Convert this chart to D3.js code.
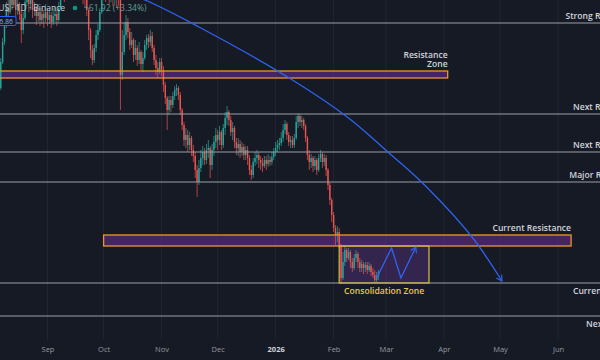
<!DOCTYPE html>
<html><head><meta charset="utf-8">
<script src="https://cdn.jsdelivr.net/npm/d3@7"></script>
<style>html,body{margin:0;padding:0;background:#161a25;overflow:hidden}svg{display:block}</style>
</head><body><svg id="c" width="600" height="360"></svg>
<script>
// ---------- DATA ----------
const firstDay = [2025, 7, 7]; // Aug 7 2025, daily candles
const firstOpen = 3750;
const closes = [4010,4210,4380,4550,4510,4650,4580,4630,4530,4590,4490,4330,4450,4610,4690,4590,4630,4530,4550,4470,4510,4430,4490,4450,4510,4430,4480,4410,4470,4490,4430,4550,4670,4750,4710,4770,4730,4790,4750,4810,4770,4830,4790,4750,4710,4650,4530,4330,4130,4030,4150,4280,4330,4510,4670,4770,4730,4790,4710,4750,4690,4730,4670,4650,3880,4110,4280,4410,4310,4180,4230,4080,4150,4030,4110,3990,4050,4180,4250,4210,4270,4150,4030,3950,3910,4010,3930,3780,3650,3530,3630,3580,3670,3730,3750,3680,3530,3380,3230,3280,3180,3250,3130,3070,2930,2810,2950,3050,3110,3030,3130,3150,2980,3130,3210,3280,3230,3310,3180,3350,3450,3510,3430,3310,3350,3210,3150,3190,3110,3160,3080,3130,3050,2930,2880,3010,3050,3080,3030,3000,2970,3030,2990,3030,3010,3060,3110,3150,3180,3200,3250,3330,3390,3280,3210,3230,3180,3250,3410,3470,3410,3430,3370,3250,3080,3010,3050,2970,3030,2930,3050,3090,3010,3050,2930,2780,2630,2480,2350,2280,2310,2180,1850,2010,2130,2050,2110,2010,1950,2050,2090,2010,1950,1990,1950,1980,1930,1970,1910,1880,1830,1870,1910];
const highs  = [4050,4250,4430,4610,4630,4710,4680,4690,4650,4630,4610,4530,4510,4670,4750,4710,4680,4650,4610,4570,4590,4550,4550,4530,4590,4550,4530,4510,4550,4570,4530,4610,4730,4810,4790,4830,4810,4870,4830,4890,4850,4910,4870,4830,4790,4730,4670,4550,4350,4180,4190,4330,4390,4550,4730,4850,4830,4870,4830,4810,4790,4810,4770,4730,4670,4330,4410,4480,4450,4350,4310,4250,4230,4180,4210,4130,4110,4230,4280,4290,4330,4310,4180,4080,4010,4050,4050,3970,3810,3670,3670,3670,3710,3770,3790,3770,3710,3550,3410,3350,3330,3310,3270,3180,3110,2980,3030,3130,3170,3150,3190,3230,3170,3190,3270,3350,3330,3370,3330,3390,3510,3570,3530,3470,3410,3370,3250,3250,3230,3210,3190,3170,3170,3080,2980,3050,3110,3130,3110,3070,3050,3070,3070,3090,3070,3110,3150,3210,3230,3250,3310,3390,3430,3410,3310,3270,3270,3290,3470,3500,3490,3470,3450,3390,3270,3130,3090,3070,3070,3050,3090,3130,3110,3090,3080,2950,2810,2650,2510,2380,2370,2350,2190,2110,2170,2150,2150,2130,2050,2090,2130,2110,2050,2030,2010,2010,2010,2010,1990,1950,1930,1910,1930];
const lows   = [3730,3990,4180,4350,4430,4490,4530,4550,4450,4480,4430,4200,4290,4430,4570,4510,4530,4450,4470,4380,4410,4370,4390,4350,4410,4370,4390,4350,4380,4410,4370,4410,4530,4630,4610,4670,4630,4690,4650,4710,4670,4730,4690,4650,4590,4550,4470,4230,4050,3980,4000,4110,4230,4310,4490,4650,4610,4670,4590,4610,4570,4590,4550,4570,3530,3830,4080,4230,4250,4130,4150,4010,4030,3970,3990,3930,3910,4030,4130,4150,4170,4110,3980,3880,3850,3890,3870,3710,3590,3330,3480,3510,3550,3630,3670,3630,3480,3330,3170,3150,3110,3130,3070,3010,2850,2660,2780,2910,2980,2980,2990,3050,2850,2930,3070,3150,3130,3180,3130,3150,3280,3380,3370,3270,3230,3150,3080,3070,3050,3070,3030,3030,2980,2880,2830,2850,2970,2990,2950,2930,2910,2950,2930,2960,2970,2980,3030,3070,3110,3130,3170,3210,3290,3230,3170,3150,3150,3150,3230,3350,3370,3350,3330,3210,3030,2930,2950,2910,2930,2880,2910,3010,2950,2970,2870,2730,2580,2410,2310,2180,2210,2150,1790,1830,1970,2010,2030,1950,1910,1930,2010,1950,1910,1910,1890,1910,1890,1910,1870,1850,1800,1810,1830];

const monthTicks  = ["2025-09-01","2025-10-01","2025-11-01","2025-12-01","2026-01-01","2026-02-01","2026-03-01","2026-04-01","2026-05-01","2026-06-01"];
const monthLabels = ["Sep","Oct","Nov","Dec","2026","Feb","Mar","Apr","May","Jun"];

// horizontal levels
const levelNames  = ["Strong Resistance","Next Resistance","Next Resistance","Major Resistance","Current Support","Next Support"];
const levelPrices = [4400, 3490, 3110, 2810, 1800, 1470];
const levelLabelDates = ["2026-06-05","2026-06-09","2026-06-09","2026-06-07","2026-06-09","2026-06-16"];
const levelLabelSide  = ["above","above","above","above","below","below"];

// zones [fromDate, toDate, lowPrice, highPrice]
const resZone  = ["2025-07-20","2026-04-03",3850,3920];
const curRes   = ["2025-10-01","2026-06-08",2170,2280];
const consZone = ["2026-02-04","2026-03-24",1800,2170];

// blue projection arc
const arcDates  = ["2025-09-29","2025-10-23","2025-11-21","2026-01-10","2026-02-09","2026-03-02","2026-03-20","2026-04-16","2026-05-02"];
const arcPrices = [4780, 4630, 4360, 3830, 3450, 3110, 2810, 2260, 1820];
// zigzag inside consolidation
const zigDates  = ["2026-02-24","2026-03-04","2026-03-09","2026-03-17"];
const zigPrices = [1850, 2150, 1850, 2160];

// ---------- CHART ----------
const W = 600, H = 360;
const pd = s => { const [a,b,c] = s.split("-").map(Number); return new Date(a, b-1, c); };
const svg = d3.select("#c");

const x = d3.scaleTime().domain([pd("2025-09-01"), pd("2026-06-01")]).range([47.5, 558]);
const y = d3.scaleLinear().domain([1800, 4400]).range([283, 23]);

const candles = closes.map((c, i) => ({
  date: new Date(firstDay[0], firstDay[1], firstDay[2] + i),
  open: i === 0 ? firstOpen : closes[i-1],
  close: c, high: highs[i], low: lows[i]
}));

svg.append("rect").attr("width", W).attr("height", H).attr("fill", "#161a25");

// vertical grid
svg.append("g").selectAll("line").data(monthTicks).join("line")
  .attr("x1", d => x(pd(d))).attr("x2", d => x(pd(d)))
  .attr("y1", 0).attr("y2", 340)
  .attr("stroke", "#ffffff").attr("stroke-opacity", 0.05).attr("stroke-width", 1);

// zone fills (behind candles)
function zoneRect(z, fill, op) {
  svg.append("rect")
    .attr("x", x(pd(z[0]))).attr("y", y(z[3]))
    .attr("width", x(pd(z[1])) - x(pd(z[0]))).attr("height", y(z[2]) - y(z[3]))
    .attr("fill", fill).attr("fill-opacity", op);
}
zoneRect(resZone, "#7a32a8", 0.45);
zoneRect(curRes, "#7a32a8", 0.45);
zoneRect(consZone, "#6e3ca0", 0.34);

// candles
const up = "#26a69a", dn = "#ef5350";
const cg = svg.append("g");
cg.selectAll("line").data(candles).join("line")
  .attr("x1", d => x(d.date)).attr("x2", d => x(d.date))
  .attr("y1", d => y(d.high)).attr("y2", d => y(d.low))
  .attr("stroke", d => d.close >= d.open ? up : dn).attr("stroke-width", 0.7);
cg.selectAll("rect").data(candles).join("rect")
  .attr("x", d => x(d.date) - 0.7).attr("width", 1.4)
  .attr("y", d => y(Math.max(d.open, d.close)))
  .attr("height", d => Math.max(0.8, Math.abs(y(d.open) - y(d.close))))
  .attr("fill", d => d.close >= d.open ? up : dn);

// level lines
svg.append("g").selectAll("line").data(levelPrices).join("line")
  .attr("x1", 0).attr("x2", W).attr("y1", d => y(d)).attr("y2", d => y(d))
  .attr("stroke", "#9a9da6").attr("stroke-width", 1.2);

// zone borders
function zoneBorder(z, stroke) {
  svg.append("rect")
    .attr("x", x(pd(z[0]))).attr("y", y(z[3]))
    .attr("width", x(pd(z[1])) - x(pd(z[0]))).attr("height", y(z[2]) - y(z[3]))
    .attr("fill", "none").attr("stroke", stroke).attr("stroke-width", 1.3);
}
zoneBorder(resZone, "#e8982a");
zoneBorder(curRes, "#e8982a");
zoneBorder(consZone, "#c9b44e");

// arrows
const defs = svg.append("defs");
defs.append("marker").attr("id", "arr").attr("viewBox", "0 0 8 8")
  .attr("refX", 6).attr("refY", 4).attr("markerWidth", 8).attr("markerHeight", 8)
  .attr("markerUnits", "userSpaceOnUse").attr("orient", "auto")
  .append("path").attr("d", "M0.5,0.8L6,4L0.5,7.2").attr("fill", "none")
  .attr("stroke", "#2f63f0").attr("stroke-width", 1.2);

const arcLine = d3.line().x(d => x(pd(d[0]))).y(d => y(d[1])).curve(d3.curveCatmullRom);
svg.append("path").datum(arcDates.map((d, i) => [d, arcPrices[i]]))
  .attr("d", arcLine).attr("fill", "none").attr("stroke", "#2f63f0")
  .attr("stroke-width", 1.3).attr("marker-end", "url(#arr)");

const zigLine = d3.line().x(d => x(pd(d[0]))).y(d => y(d[1]));
svg.append("path").datum(zigDates.map((d, i) => [d, zigPrices[i]]))
  .attr("d", zigLine).attr("fill", "none").attr("stroke", "#2f63f0")
  .attr("stroke-width", 1.3).attr("marker-end", "url(#arr)");

// labels
const FONT = "'Open Sans', 'Noto Sans', sans-serif";
svg.append("g").selectAll("text").data(levelNames).join("text")
  .attr("x", (d, i) => x(pd(levelLabelDates[i])))
  .attr("y", (d, i) => y(levelPrices[i]) + (levelLabelSide[i] === "above" ? -4 : 10.5))
  .attr("fill", "#d1d4dc").attr("font-family", FONT).attr("font-size", 8.6)
  .attr("font-weight", 600).text(d => d);

const rzx = x(pd(resZone[1]));
svg.append("text").attr("text-anchor", "end").attr("x", rzx).attr("y", y(resZone[3]) - 13.5)
  .attr("fill", "#d1d4dc").attr("font-family", FONT).attr("font-size", 8.6).attr("font-weight", 600)
  .text("Resistance");
svg.append("text").attr("text-anchor", "end").attr("x", rzx).attr("y", y(resZone[3]) - 4)
  .attr("fill", "#d1d4dc").attr("font-family", FONT).attr("font-size", 8.6).attr("font-weight", 600)
  .text("Zone");

svg.append("text").attr("text-anchor", "end")
  .attr("x", x(pd(curRes[1]))).attr("y", y(curRes[3]) - 4)
  .attr("fill", "#d1d4dc").attr("font-family", FONT).attr("font-size", 8.6).attr("font-weight", 600)
  .text("Current Resistance");

svg.append("text").attr("text-anchor", "middle")
  .attr("x", (x(pd(consZone[0])) + x(pd(consZone[1]))) / 2).attr("y", y(consZone[2]) + 10.5)
  .attr("fill", "#e9c84a").attr("font-family", FONT).attr("font-size", 8.6).attr("font-weight", 600)
  .text("Consolidation Zone");

// header
svg.append("text").attr("text-anchor", "end").attr("x", 65).attr("y", 11)
  .attr("fill", "#c8cbd3").attr("font-family", FONT).attr("font-size", 8.5)
  .text("Ethereum / TetherUS · 1D · Binance");
svg.append("circle").attr("cx", 75).attr("cy", 8).attr("r", 2.3).attr("fill", "#089981");
svg.append("text").attr("x", 84).attr("y", 11)
  .attr("fill", "#5f9e95").attr("font-family", FONT).attr("font-size", 8.5)
  .text("+61.92 (+3.34%)");
svg.append("rect").attr("x", -12).attr("y", 16.5).attr("width", 28).attr("height", 9).attr("rx", 1.5)
  .attr("fill", "#131722").attr("stroke", "#2962ff").attr("stroke-width", 1);
svg.append("text").attr("text-anchor", "end").attr("x", 13).attr("y", 23.5)
  .attr("fill", "#8fb0ff").attr("font-family", FONT).attr("font-size", 7).text("1,986.86");

// time axis
const ax = svg.append("g").attr("transform", "translate(0,344)")
  .call(d3.axisBottom(x).tickValues(monthTicks.map(pd)).tickFormat((d, i) => monthLabels[i]).tickSize(0));
ax.select(".domain").remove();
ax.selectAll("text").attr("font-family", FONT).attr("font-size", 7.5)
  .attr("fill", (d, i) => monthLabels[i] === "2026" ? "#d1d4dc" : "#9598a1")
  .attr("font-weight", (d, i) => monthLabels[i] === "2026" ? 700 : 400);
</script>
</body></html>
